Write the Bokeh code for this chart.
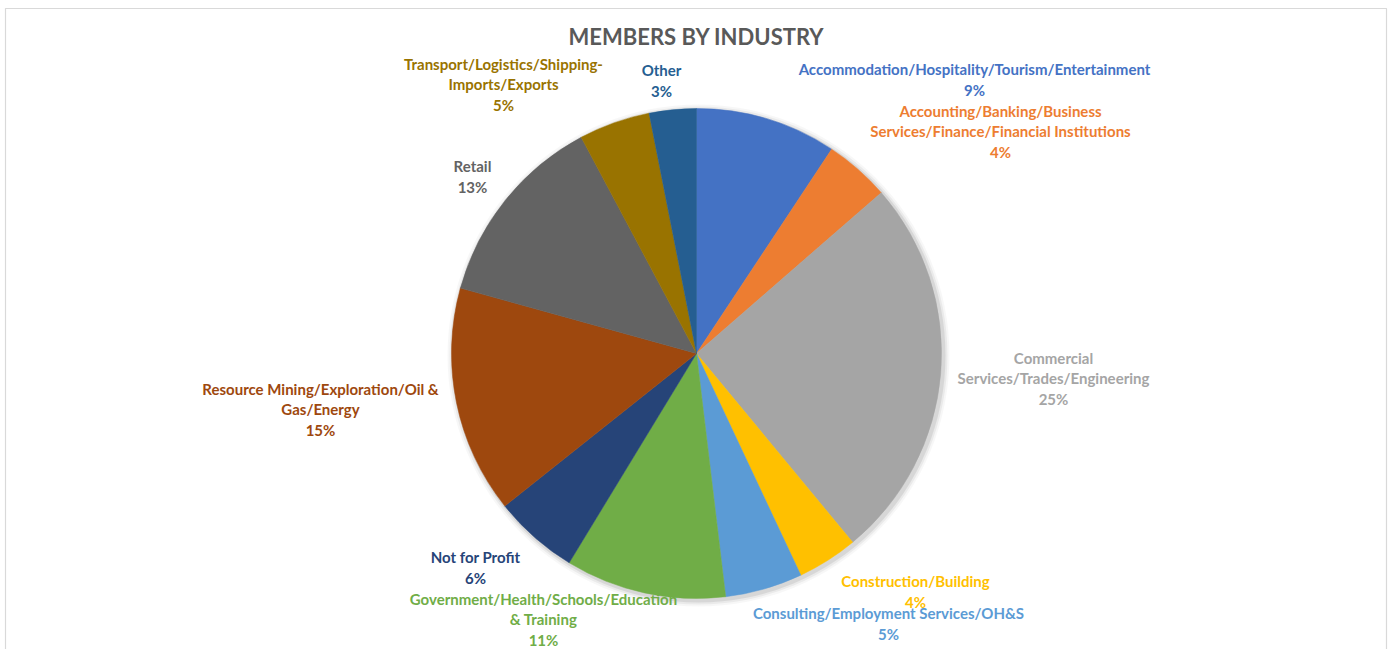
import math
from bokeh.plotting import figure
from bokeh.models import Range1d, ColumnDataSource
from bokeh.core.properties import value
from bokeh.embed import file_html
from bokeh.resources import INLINE

# ---- data ----
categories = [
    "Accommodation/Hospitality/Tourism/Entertainment",
    "Accounting/Banking/Business\nServices/Finance/Financial Institutions",
    "Commercial\nServices/Trades/Engineering",
    "Construction/Building",
    "Consulting/Employment Services/OH&S",
    "Government/Health/Schools/Education\n& Training",
    "Not for Profit",
    "Resource Mining/Exploration/Oil &\nGas/Energy",
    "Retail",
    "Transport/Logistics/Shipping-\nImports/Exports",
    "Other",
]
shares = [9.3, 4.3, 25.4, 4.0, 5.1, 10.6, 5.6, 15.0, 12.9, 4.7, 3.1]
colors = ["#4472C4", "#ED7D31", "#A5A5A5", "#FFC000", "#5B9BD5", "#70AD47",
          "#264478", "#9E480E", "#636363", "#997300", "#255E91"]

# ---- layout (pixel-like coordinates, y up) ----
W, H = 1393, 649
cx, cy, R = 696, 296, 245
label_pos = [(974, 570), (1000, 518), (1053, 271), (915, 58), (888, 26), (543, 30),
             (475, 82), (320, 240), (472, 473), (503, 565), (661, 569)]
FONT = "Lato"

total = sum(shares)
starts, ends = [], []
acc = 0.0
for v in shares:
    a0 = acc / total
    acc += v
    a1 = acc / total
    # clockwise from 12 o'clock
    starts.append(math.pi / 2 - 2 * math.pi * a1)
    ends.append(math.pi / 2 - 2 * math.pi * a0)

texts = [f"{c}\n{round(v / total * 100)}%" for c, v in zip(categories, shares)]

src = ColumnDataSource(dict(
    start=starts, end=ends, color=colors,
    lx=[p[0] for p in label_pos], ly=[p[1] for p in label_pos], text=texts,
))

p = figure(width=W, height=H, x_range=Range1d(0, W), y_range=Range1d(0, H),
           output_backend="svg", toolbar_location=None, min_border=0)
p.axis.visible = False
p.grid.visible = False
p.outline_line_color = None
p.background_fill_color = "white"

# chart area border (open at the bottom, as in the cropped original)
p.line(x=[5, 5, 1386, 1386], y=[-10, 641, 641, -10], line_color="#D9D9D9", line_width=1.2)

# soft shadow
for dr, a in [(6, 0.03), (4, 0.05), (2, 0.08)]:
    p.circle(x=[cx + 2], y=[cy - 2], radius=R + dr, fill_color="#000000",
             fill_alpha=a, line_color=None)

p.wedge(x=cx, y=cy, radius=R, start_angle="start", end_angle="end",
        direction="anticlock", fill_color="color", line_color="color",
        line_width=0.5, source=src)

p.text(x="lx", y="ly", text="text", source=src, text_color="color",
       text_align="center", text_baseline="middle",
       text_font=value(FONT), text_font_style="bold", text_font_size="15px",
       text_line_height=1.12)

p.text(x=[cx], y=[613], text=["MEMBERS BY INDUSTRY"], text_color="#595959",
       text_align="center", text_baseline="middle", text_font=value(FONT),
       text_font_style="bold", text_font_size="22px")

open("out.html", "w").write(file_html(p, INLINE))
